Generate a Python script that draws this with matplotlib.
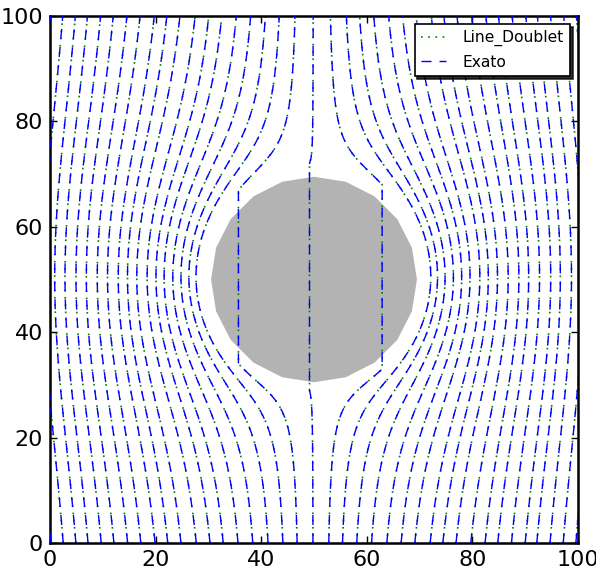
import numpy as np
import matplotlib.pyplot as plt
from matplotlib.patches import Polygon

# streamline start positions along the bottom edge (y = 0)
start_x = [0.2, 2.5, 4.9, 7.2, 9.7, 12.1, 14.7, 17.2, 19.9, 22.3, 24.8, 27.7,
           30.3, 32.8, 35.6, 38.4, 41.3, 44.1, 46.8, 49.8, 52.8, 55.4, 58.1,
           60.9, 63.8, 66.5, 69.1, 72.0, 74.4, 76.9, 79.7, 82.4, 84.8, 87.4,
           90.0, 92.2, 94.7, 97.2, 99.6]

# cylinder (doublet) and its panel discretisation
xc, yc = 50.0, 50.0
radius = 19.5
core_radius = 21.5
n_panels = 20
step = 1.0


def velocity(x, y):
    dx, dy = x - xc, y - yc
    r2 = dx * dx + dy * dy
    if r2 < core_radius ** 2:
        return 0.0, 1.0
    u = -2 * radius ** 2 * dx * dy / r2 ** 2
    v = 1 - radius ** 2 * (dy * dy - dx * dx) / r2 ** 2
    return u, v


def trace(x0):
    ys = np.arange(0, 100 + step, step)
    xs = [x0]
    for y in ys[:-1]:
        u, v = velocity(xs[-1], y)
        xs.append(xs[-1] + step * u / v)
    return np.array(xs), ys


fig = plt.figure(figsize=(5.96, 5.69), dpi=100)
ax = fig.add_axes([50 / 596, 26 / 569, 528 / 596, 527 / 569])

theta = np.linspace(0, 2 * np.pi, n_panels + 1)[:-1]
verts = np.column_stack([xc + radius * np.cos(theta), yc + radius * np.sin(theta)])
ax.add_patch(Polygon(verts, closed=True, facecolor='0.7', edgecolor='none', zorder=1))

for i, x0 in enumerate(start_x):
    xs, ys = trace(x0)
    ax.plot(xs, ys, color='g', linestyle=(0, (1, 3.33)), lw=1.2,
            label='Line_Doublet' if i == 0 else None, zorder=2)
    ax.plot(xs, ys, color='b', linestyle=(0, (7.2, 5.8)), lw=1.0,
            label='Exato' if i == 0 else None, zorder=3)

ax.set_xlim(0, 100)
ax.set_ylim(0, 100)
ax.set_xticks([0, 20, 40, 60, 80, 100])
ax.set_yticks([0, 20, 40, 60, 80, 100])
ax.tick_params(direction='in', length=5, width=1, labelsize=16, pad=5,
               top=True, right=True)
for s in ax.spines.values():
    s.set_linewidth(1.8)

leg = ax.legend(loc='upper right', fontsize=11.2, fancybox=False,
                shadow={'color': 'black', 'alpha': 0.8},
                handlelength=1.6, handletextpad=1.1, labelspacing=0.55,
                borderaxespad=0.5)
leg.get_frame().set_edgecolor('black')
leg.get_frame().set_linewidth(1.2)

fig.savefig('out.png')
